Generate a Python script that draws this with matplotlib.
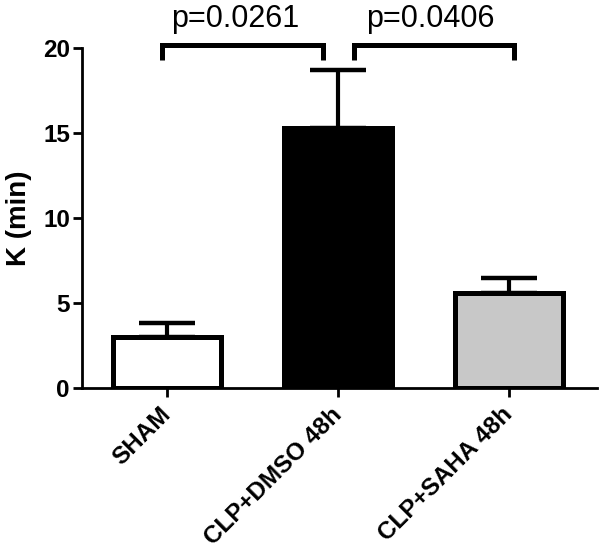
import numpy as np
import matplotlib.pyplot as plt

plt.rcParams['font.family'] = ['Liberation Sans', 'DejaVu Sans']

groups = ['SHAM', 'CLP+DMSO 48h', 'CLP+SAHA 48h']
means = [3.0, 15.3, 5.6]
sem = [0.85, 3.4, 0.9]
bar_colors = ['white', 'black', '#c8c8c8']
# (left, right, label x, text)
pairs = [(-0.03, 0.91, 0.40, 'p=0.0261'), (1.09, 2.03, 1.54, 'p=0.0406')]

fig = plt.figure(figsize=(6, 5.59), dpi=100)
ax = fig.add_axes([0.1362, 0.3059, 0.8583, 0.6082])

x = np.arange(len(groups))
ax.errorbar(x, means, yerr=[np.zeros(3), sem], fmt='none', ecolor='black',
            elinewidth=3, capsize=20.5, capthick=3.2, zorder=1)
ax.bar(x, means, width=0.633, color=bar_colors, edgecolor='black', linewidth=3.6,
       zorder=2, joinstyle='miter')

ax.set_xlim(-0.501, 2.513)
ax.set_ylim(0, 20)
ax.set_yticks([0, 5, 10, 15, 20])
ax.set_xticks(x)
ax.set_xticklabels(groups, rotation=45, ha='right', va='center', rotation_mode='anchor',
                   fontsize=17.5, fontweight='bold')
for lab in ax.get_yticklabels():
    lab.set_fontsize(17.5)
    lab.set_fontweight('bold')

for s in ['top', 'right']:
    ax.spines[s].set_visible(False)
for s in ['left', 'bottom']:
    ax.spines[s].set_linewidth(2)
ax.tick_params(width=2, length=6.5, direction='out')
ax.tick_params(axis='x', pad=10)
ax.tick_params(axis='y', pad=2)
ax.set_ylabel('K (min)', fontsize=20, fontweight='bold')
ax.yaxis.set_label_coords(-0.097, 0.5)

# significance brackets
for x0, x1, tx, txt in pairs:
    ax.plot([x0, x0, x1, x1], [19.3, 20.15, 20.15, 19.3], color='black', lw=3.6,
            clip_on=False, solid_joinstyle='miter', solid_capstyle='butt')
    ax.text(tx, 21.25, txt, ha='center', va='baseline', fontsize=22)

fig.savefig('out.png', dpi=100)
